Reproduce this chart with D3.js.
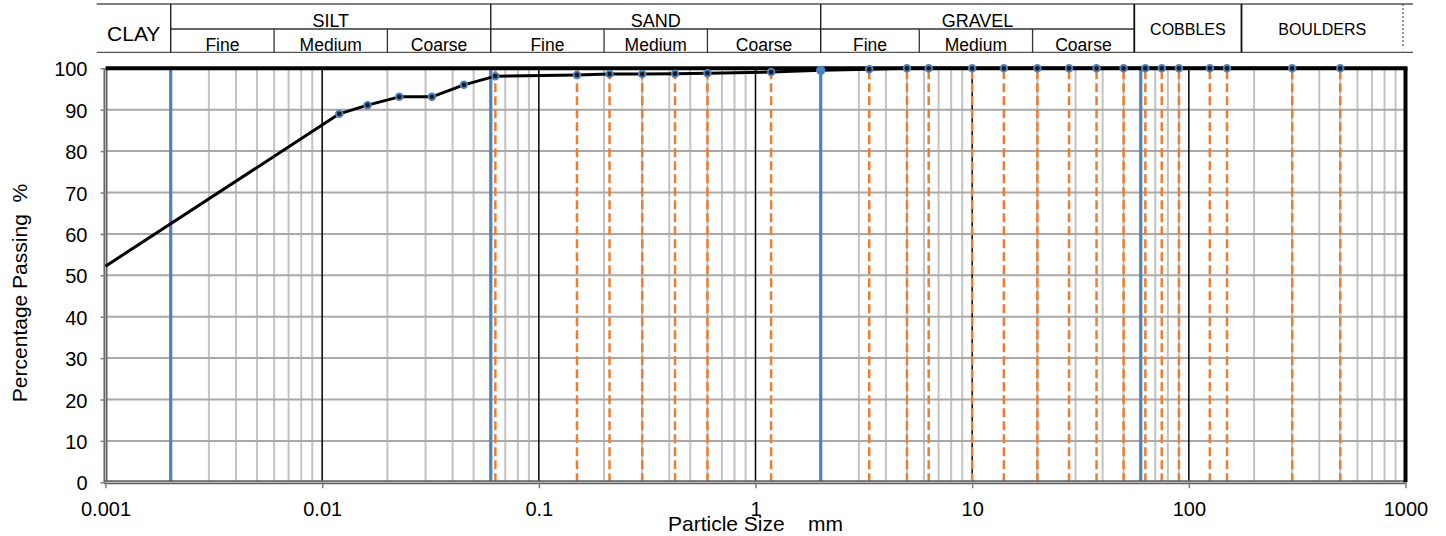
<!DOCTYPE html>
<html>
<head>
<meta charset="utf-8">
<script src="https://cdn.jsdelivr.net/npm/d3@7"></script>
<style>
  html, body { margin: 0; padding: 0; background: #fff; }
  svg { display: block; font-family: "Liberation Sans", Arial, sans-serif; }
</style>
</head>
<body>
<svg id="chart" width="1446" height="536"></svg>
<script>
// Hydrometer readings (particle size in mm, % passing)
const hydroSizes   = [0.001, 0.012, 0.0162, 0.0227, 0.0321, 0.0451];
const hydroPassing = [52.2, 89.0, 91.1, 93.1, 93.1, 96.0];

// Sieve analysis (aperture in mm, % passing)
const sieveSizes   = [0.063, 0.15, 0.212, 0.3, 0.425, 0.6, 1.18, 2, 3.35, 5, 6.3, 10, 14, 20, 28, 37.5, 50, 63, 75, 90, 125, 150, 300, 500];
const sievePassing = [98.1, 98.4, 98.6, 98.6, 98.7, 98.8, 99.1, 99.5, 99.8, 100, 100, 100, 100, 100, 100, 100, 100, 100, 100, 100, 100, 100, 100, 100];

// Soil class boundaries (mm)
const classBoundaries = [0.002, 0.06, 2, 60];

// Classification header
const soilClasses   = ["CLAY", "SILT", "SAND", "GRAVEL", "COBBLES", "BOULDERS"];
const classEdges    = [0.002, 0.06, 2, 56, 175];
const subClasses    = ["Fine", "Medium", "Coarse"];
const subClassEdges = [
  [0.002, 0.006, 0.02, 0.06],
  [0.06, 0.2, 0.6, 2],
  [2, 5.7, 19, 56]
];

// Axis ticks
const xTickValues = [0.001, 0.01, 0.1, 1, 10, 100, 1000];
const xTickLabels = ["0.001", "0.01", "0.1", "1", "10", "100", "1000"];
const yTickValues = [0, 10, 20, 30, 40, 50, 60, 70, 80, 90, 100];

const svg = d3.select("#chart");

const x = d3.scaleLog().domain([0.001, 1000]).range([105.5, 1405.5]);
const y = d3.scaleLinear().domain([0, 100]).range([482.3, 68.3]);

const x0 = x.range()[0], x1 = x.range()[1];
const yBot = y(0), yTop = y(100);

const BLUE = "#4f81bd", ORANGE = "#ed7d31";

// ---- gridlines ----
const grid = svg.append("g");
const allX = x.ticks();
const isDecade = d => Math.abs(Math.log10(d) - Math.round(Math.log10(d))) < 1e-9;

grid.selectAll("line.minor")
  .data(allX.filter(d => !isDecade(d)))
  .join("line")
  .attr("x1", d => x(d)).attr("x2", d => x(d))
  .attr("y1", yBot).attr("y2", yTop)
  .attr("stroke", "#c3c3c3").attr("stroke-width", 2);

grid.selectAll("line.hgrid")
  .data(yTickValues.filter(v => v > 0 && v < 100))
  .join("line")
  .attr("x1", x0).attr("x2", x1)
  .attr("y1", d => y(d)).attr("y2", d => y(d))
  .attr("stroke", "#a9a9a9").attr("stroke-width", 2);

grid.selectAll("line.major")
  .data(xTickValues.filter(d => d > x.domain()[0] && d < x.domain()[1]))
  .join("line")
  .attr("x1", d => x(d)).attr("x2", d => x(d))
  .attr("y1", yBot).attr("y2", yTop)
  .attr("stroke", "#000").attr("stroke-width", 1.5);

// ---- sieve aperture lines ----
const sieveLines = sieveSizes.filter(s => !classBoundaries.includes(s));
svg.append("g").selectAll("line")
  .data(sieveLines)
  .join("line")
  .attr("x1", d => x(d)).attr("x2", d => x(d))
  .attr("y1", yBot).attr("y2", yTop)
  .attr("stroke", ORANGE).attr("stroke-width", 2.5)
  .attr("stroke-dasharray", "9,4");

// ---- class boundary lines ----
svg.append("g").selectAll("line")
  .data(classBoundaries)
  .join("line")
  .attr("x1", d => x(d)).attr("x2", d => x(d))
  .attr("y1", yBot).attr("y2", yTop)
  .attr("stroke", BLUE).attr("stroke-width", 3.2);

// ---- plot frame ----
const frame = svg.append("g");
// left and bottom (grey double rule)
[[x0, yBot, x0, yTop], [x0 - 1.5, yBot, x1, yBot]].forEach(([ax, ay, bx, by]) => {
  frame.append("line").attr("x1", ax).attr("y1", ay).attr("x2", bx).attr("y2", by)
    .attr("stroke", "#5e5e5e").attr("stroke-width", 4);
  frame.append("line").attr("x1", ax).attr("y1", ay).attr("x2", bx).attr("y2", by)
    .attr("stroke", "#b8b8b8").attr("stroke-width", 1.2);
});
// top and right (black)
frame.append("line").attr("x1", x0).attr("x2", x1 + 2).attr("y1", yTop).attr("y2", yTop)
  .attr("stroke", "#000").attr("stroke-width", 4);
frame.append("line").attr("x1", x1).attr("x2", x1).attr("y1", yTop).attr("y2", yBot)
  .attr("stroke", "#000").attr("stroke-width", 4);

// ---- grading curve ----
const points = hydroSizes.map((s, i) => ({ size: s, pass: hydroPassing[i] }))
  .concat(sieveSizes.map((s, i) => ({ size: s, pass: sievePassing[i] })));

const line = d3.line().x(d => x(d.size)).y(d => y(d.pass));
svg.append("path")
  .datum(points)
  .attr("d", line)
  .attr("fill", "none")
  .attr("stroke", "#000")
  .attr("stroke-width", 3)
  .attr("stroke-linejoin", "round");

// markers on test points inside the plot
svg.append("g").selectAll("circle")
  .data(points.filter(p => p.size > x.domain()[0]))
  .join("circle")
  .attr("cx", d => x(d.size)).attr("cy", d => y(d.pass))
  .attr("r", 3.3)
  .attr("fill", "#1b1b1b")
  .attr("stroke", BLUE).attr("stroke-width", 1.9);

// filled marker where a sieve coincides with a class boundary
svg.append("g").selectAll("circle")
  .data(points.filter(p => classBoundaries.includes(p.size)))
  .join("circle")
  .attr("cx", d => x(d.size)).attr("cy", d => y(d.pass))
  .attr("r", 4.6)
  .attr("fill", BLUE);

// ---- axes ----
const yAxis = svg.append("g")
  .attr("transform", `translate(${x0},0)`)
  .call(d3.axisLeft(y).tickValues(yTickValues).tickSize(5).tickPadding(13));
yAxis.select(".domain").remove();
yAxis.selectAll(".tick line").attr("stroke", "#808080").attr("stroke-width", 1.5);
yAxis.selectAll(".tick text")
  .attr("font-family", "Liberation Sans, Arial, sans-serif")
  .attr("font-size", 20).attr("fill", "#000").attr("dy", "0.38em");

const xAxis = svg.append("g")
  .attr("transform", `translate(0,${yBot})`)
  .call(d3.axisBottom(x).tickValues(xTickValues)
    .tickFormat((d, i) => xTickLabels[i]).tickSize(6).tickPadding(14));
xAxis.select(".domain").remove();
xAxis.selectAll(".tick line").attr("stroke", "#808080").attr("stroke-width", 1.5);
xAxis.selectAll(".tick text")
  .attr("font-family", "Liberation Sans, Arial, sans-serif")
  .attr("font-size", 20).attr("fill", "#000");

// axis titles
svg.append("text")
  .attr("x", 668).attr("y", 531)
  .attr("font-size", 21)
  .style("white-space", "pre")
  .text("Particle Size    mm");

svg.append("text")
  .attr("transform", "translate(27,293) rotate(-90)")
  .attr("text-anchor", "middle")
  .attr("font-size", 21)
  .style("white-space", "pre")
  .text("Percentage Passing  %");

// ---- classification header ----
const hdr = svg.append("g");
const hTop = 4, hMid = 29, hBot = 52.3;
const hLeft = 96.7, hRight = 1413, hDash = 1403;
const ruleColor = "#333";

hdr.append("line").attr("x1", hLeft).attr("x2", hRight).attr("y1", hTop).attr("y2", hTop)
  .attr("stroke", "#555").attr("stroke-width", 1.3);
hdr.append("line").attr("x1", hLeft).attr("x2", hRight).attr("y1", hBot).attr("y2", hBot)
  .attr("stroke", "#555").attr("stroke-width", 1.3);
hdr.append("line").attr("x1", x(subClassEdges[0][0])).attr("x2", x(subClassEdges[2][3]))
  .attr("y1", hMid).attr("y2", hMid)
  .attr("stroke", ruleColor).attr("stroke-width", 1.3);

hdr.selectAll("line.cls")
  .data(classEdges)
  .join("line")
  .attr("x1", d => x(d)).attr("x2", d => x(d))
  .attr("y1", hTop).attr("y2", hBot)
  .attr("stroke", "#111").attr("stroke-width", (d, i) => i >= 3 ? 1.8 : 1.3);

hdr.append("line").attr("x1", hDash).attr("x2", hDash).attr("y1", hTop).attr("y2", hBot - 4)
  .attr("stroke", "#333").attr("stroke-width", 1).attr("stroke-dasharray", "2,2");

subClassEdges.forEach(edges => {
  edges.slice(1, 3).forEach(e => {
    hdr.append("line").attr("x1", x(e)).attr("x2", x(e)).attr("y1", hMid).attr("y2", hBot)
      .attr("stroke", ruleColor).attr("stroke-width", 1.3);
  });
  subClasses.forEach((name, i) => {
    hdr.append("text")
      .attr("x", (x(edges[i]) + x(edges[i + 1])) / 2).attr("y", 50.5)
      .attr("text-anchor", "middle").attr("font-size", 17.5)
      .text(name);
  });
});

// class names
const classSpans = [
  [hLeft, x(classEdges[0])],
  [x(classEdges[0]), x(classEdges[1])],
  [x(classEdges[1]), x(classEdges[2])],
  [x(classEdges[2]), x(classEdges[3])],
  [x(classEdges[3]), x(classEdges[4])],
  [x(classEdges[4]), hDash]
];
soilClasses.forEach((name, i) => {
  const [a, b] = classSpans[i];
  const split = i >= 1 && i <= 3;
  hdr.append("text")
    .attr("x", (a + b) / 2)
    .attr("y", split ? 26.5 : (i === 0 ? 40.5 : 34.5))
    .attr("text-anchor", "middle")
    .attr("font-size", i === 0 ? 21 : (split ? 18 : 16))
    .text(name);
});
</script>
</body>
</html>
